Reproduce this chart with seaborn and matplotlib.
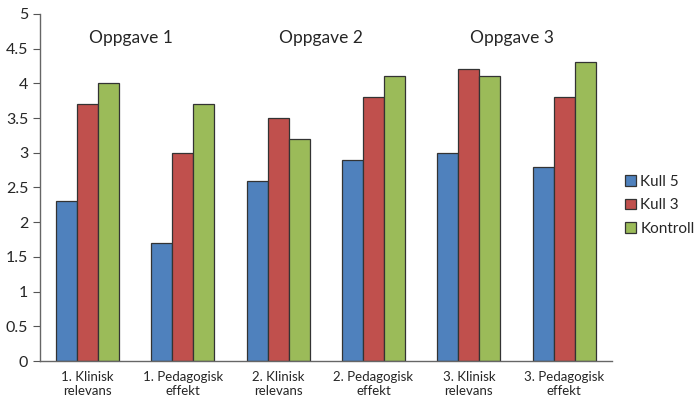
import numpy as np
import pandas as pd
import matplotlib
matplotlib.use("Agg")
import matplotlib.pyplot as plt
import seaborn as sns

# ================= DATA =================
categories = ["1. Klinisk\nrelevans", "1. Pedagogisk\neffekt",
              "2. Klinisk\nrelevans", "2. Pedagogisk\neffekt",
              "3. Klinisk\nrelevans", "3. Pedagogisk\neffekt"]
kull5 = [2.3, 1.7, 2.6, 2.9, 3.0, 2.8]
kull3 = [3.7, 3.0, 3.5, 3.8, 4.2, 3.8]
kontroll = [4.0, 3.7, 3.2, 4.1, 4.1, 4.3]
series_names = ["Kull 5", "Kull 3", "Kontroll"]
group_titles = ["Oppgave 1", "Oppgave 2", "Oppgave 3"]

df = pd.DataFrame({"kategori": categories * 3,
                   "gruppe": np.repeat(series_names, len(categories)),
                   "verdi": kull5 + kull3 + kontroll})

# ================= STYLE =================
sns.set_style("white")
plt.rcParams["font.family"] = ["Lato", "DejaVu Sans"]
colors = ["#4F81BD", "#C0504D", "#9BBB59"]

fig = plt.figure(figsize=(7, 4.08), dpi=100)
ax = fig.add_axes([0.057, 0.115, 0.817, 0.851])

sns.barplot(data=df, x="kategori", y="verdi", hue="gruppe",
            palette=colors, width=0.66, edgecolor="#333333",
            linewidth=0.9, saturation=1, ax=ax)

ax.set_ylim(0, 5)
ax.set_xlim(-0.5, len(categories) - 0.5)
ax.set_yticks(np.arange(0, 5.01, 0.5))
ax.set_yticklabels([f"{v:g}" for v in np.arange(0, 5.01, 0.5)], fontsize=11.5)
ax.set_xticklabels(categories, fontsize=9.5)
ax.tick_params(axis="x", which="major", length=0, pad=7)
ax.set_xticks(np.arange(-0.5, len(categories), 1), minor=True)
ax.tick_params(axis="x", which="minor", length=5, color="#555555", direction="out")
ax.tick_params(axis="y", length=5, color="#555555", direction="out", left=True)
ax.set_xlabel("")
ax.set_ylabel("")

sns.despine(ax=ax)
for s in ["left", "bottom"]:
    ax.spines[s].set_color("#666666")
    ax.spines[s].set_linewidth(1)

for i, t in enumerate(group_titles):
    ax.text(2 * i + 0.45, 4.65, t, ha="center", va="center", fontsize=12.5)

ax.legend(loc="center left", bbox_to_anchor=(0.893, 0.497),
          bbox_transform=fig.transFigure, frameon=False, borderpad=0,
          borderaxespad=0, fontsize=11, handlelength=0.7, handleheight=0.7,
          handletextpad=0.3, labelspacing=0.62)

fig.savefig("out.png", dpi=100)
